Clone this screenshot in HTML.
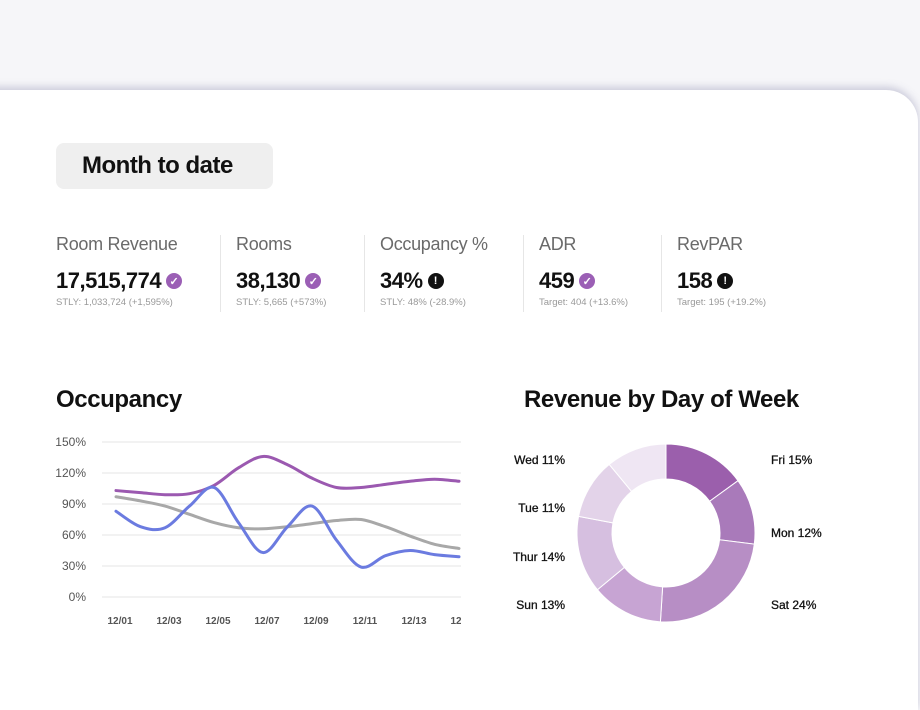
<!DOCTYPE html>
<html><head><meta charset="utf-8">
<style>
body{margin:0;width:920px;height:685px;overflow:hidden;background:#f6f6f9;font-family:"Liberation Sans",sans-serif;position:relative}
.card{position:absolute;left:-20px;top:90px;width:938px;height:620px;background:#fff;border-top-right-radius:32px;box-shadow:0 -3px 8px rgba(120,120,160,0.35)}
.btn{position:absolute;left:56px;top:143px;width:217px;height:46px;background:#efefef;border-radius:8px;font-size:24px;font-weight:bold;line-height:46px;box-sizing:border-box;padding-left:26px;letter-spacing:-0.5px;color:#111}
.kpi{position:absolute;top:234px}
.kpi .l{font-size:18px;color:#6a6a6a;letter-spacing:-0.3px}
.kpi .v{font-size:22px;font-weight:bold;color:#111;margin-top:13px;display:flex;align-items:center;gap:5px;letter-spacing:-0.5px}
.kpi .s{font-size:9.5px;color:#999;margin-top:3px}
.ic{width:16px;height:16px;border-radius:50%;display:inline-flex;align-items:center;justify-content:center;color:#fff;font-size:11px;font-weight:bold;letter-spacing:0}
.ok{background:#9b5fb5}.bad{background:#111}
.div{position:absolute;top:235px;width:1px;height:77px;background:#e6e6e6}
.t{position:absolute;font-size:24px;font-weight:bold;color:#111;letter-spacing:-0.4px}
</style></head><body>
<div class="card"></div>
<div class="btn">Month to date</div>

<div class="kpi" style="left:56px"><div class="l">Room Revenue</div><div class="v">17,515,774 <span class="ic ok">✓</span></div><div class="s">STLY: 1,033,724 (+1,595%)</div></div>
<div class="div" style="left:220px"></div>
<div class="kpi" style="left:236px"><div class="l">Rooms</div><div class="v">38,130 <span class="ic ok">✓</span></div><div class="s">STLY: 5,665 (+573%)</div></div>
<div class="div" style="left:364px"></div>
<div class="kpi" style="left:380px"><div class="l">Occupancy %</div><div class="v">34% <span class="ic bad">!</span></div><div class="s">STLY: 48% (-28.9%)</div></div>
<div class="div" style="left:523px"></div>
<div class="kpi" style="left:539px"><div class="l">ADR</div><div class="v">459 <span class="ic ok">✓</span></div><div class="s">Target: 404 (+13.6%)</div></div>
<div class="div" style="left:661px"></div>
<div class="kpi" style="left:677px"><div class="l">RevPAR</div><div class="v">158 <span class="ic bad">!</span></div><div class="s">Target: 195 (+19.2%)</div></div>

<div class="t" style="left:56px;top:386px">Occupancy</div>
<div class="t" style="left:524px;top:386px">Revenue by Day of Week</div>

<svg id="line" style="position:absolute;left:0;top:0" width="920" height="685"></svg>
<svg id="donut" style="position:absolute;left:0;top:0" width="920" height="685"></svg>

<script>
const days = ["12/01","12/02","12/03","12/04","12/05","12/06","12/07","12/08","12/09","12/10","12/11","12/12","12/13","12/14","12/15"];
const xTickLabels = ["12/01","12/03","12/05","12/07","12/09","12/11","12/13","12/15"];
const yTicks = [0,30,60,90,120,150];
const seriesPurple = [103,101,99,100,108,125,136,128,115,106,106,109,112,114,112];
const seriesBlue = [83,68,67,88,106,72,43,68,88,55,29,40,45,41,39];
const seriesGray = [97,93,88,80,72,67,66,68,71,74,75,68,59,51,47];
const dowLabels = ["Fri","Mon","Sat","Sun","Thur","Tue","Wed"];
const dowValues = [15,12,24,13,14,11,11];

const NS="http://www.w3.org/2000/svg";
function mk(p,tag,at){const e=document.createElementNS(NS,tag);for(const k in at)e.setAttribute(k,at[k]);p.appendChild(e);return e;}
const L=document.getElementById('line');
const x0=116, dx=24.5, yB=597, yT=442;
const X=i=>x0+i*dx;
const Y=v=>yB-(v/150)*(yB-yT);
const defs=mk(L,'defs',{});
const cp=mk(defs,'clipPath',{id:'cp'});mk(cp,'rect',{x:100,y:420,width:361,height:220});
yTicks.forEach(t=>{
  const g=mk(L,'line',{x1:102,x2:461,y1:Y(t),y2:Y(t),stroke:'#e6e6e6','stroke-width':1});
  
  
  const tx=mk(L,'text',{x:86,y:Y(t)+4,'text-anchor':'end','font-size':12,fill:'#555'});
  tx.textContent=t+'%';
  
  
});
xTickLabels.forEach(lb=>{
  const i=days.indexOf(lb);
  const tx=mk(L,'text',{x:X(i)+4,y:624,'text-anchor':'middle','font-size':10,'font-weight':'bold',fill:'#555','clip-path':'url(#cp)'});
  tx.textContent=lb;
  
  
});
function smooth(vals){
  const p=vals.map((v,i)=>[X(i),Y(v)]);
  let d='M'+p[0][0]+','+p[0][1];
  for(let i=0;i<p.length-1;i++){
    const a=p[i-1]||p[i],b=p[i],c=p[i+1],e=p[i+2]||c;
    const c1=[b[0]+(c[0]-a[0])/6,b[1]+(c[1]-a[1])/6],c2=[c[0]-(e[0]-b[0])/6,c[1]-(e[1]-b[1])/6];
    d+=` C${c1[0]},${c1[1]} ${c2[0]},${c2[1]} ${c[0]},${c[1]}`;
  }
  return d;
}
[[seriesGray,'#a8a8a8','line-stly'],[seriesPurple,'#9b59b0','line-forecast'],[seriesBlue,'#6b7be0','line-actual']].forEach(([s,c,n])=>{
  const p=mk(L,'path',{d:smooth(s),fill:'none',stroke:c,'stroke-width':3,'clip-path':'url(#cp)','stroke-linecap':'round'});
  
  
});

const D=document.getElementById('donut');
const cx=666,cy=533,R=89,r=54;
const colors=['#9b5fac','#a97aba','#b78ec5','#c7a4d3','#d6bfe0','#e3d3e9','#efe6f3'];
const labelPos=[[771,464,'start'],[771,537,'start'],[771,609,'start'],[565,609,'end'],[565,561,'end'],[565,512,'end'],[565,464,'end']];
const tot=dowValues.reduce((a,b)=>a+b,0);
let acc=0;
dowValues.forEach((v,i)=>{
  const a0=acc/tot*2*Math.PI, a1=(acc+v)/tot*2*Math.PI; acc+=v;
  const pt=(rad,a)=>[cx+rad*Math.sin(a),cy-rad*Math.cos(a)];
  const lg=(a1-a0)>Math.PI?1:0;
  const [p1,p2,p3,p4]=[pt(R,a0),pt(R,a1),pt(r,a1),pt(r,a0)];
  const d=`M${p1} A${R},${R} 0 ${lg} 1 ${p2} L${p3} A${r},${r} 0 ${lg} 0 ${p4}Z`;
  const s=mk(D,'path',{d:d,fill:colors[i],stroke:'#fff','stroke-width':1});
  
  
  const lp=labelPos[i];
  const t=mk(D,'text',{x:lp[0],y:lp[1],'text-anchor':lp[2],'font-size':12,fill:'#111','stroke':'#111','stroke-width':0.3});
  t.textContent=dowLabels[i]+' '+v+'%';
  
  
});
</script>
</body></html>
